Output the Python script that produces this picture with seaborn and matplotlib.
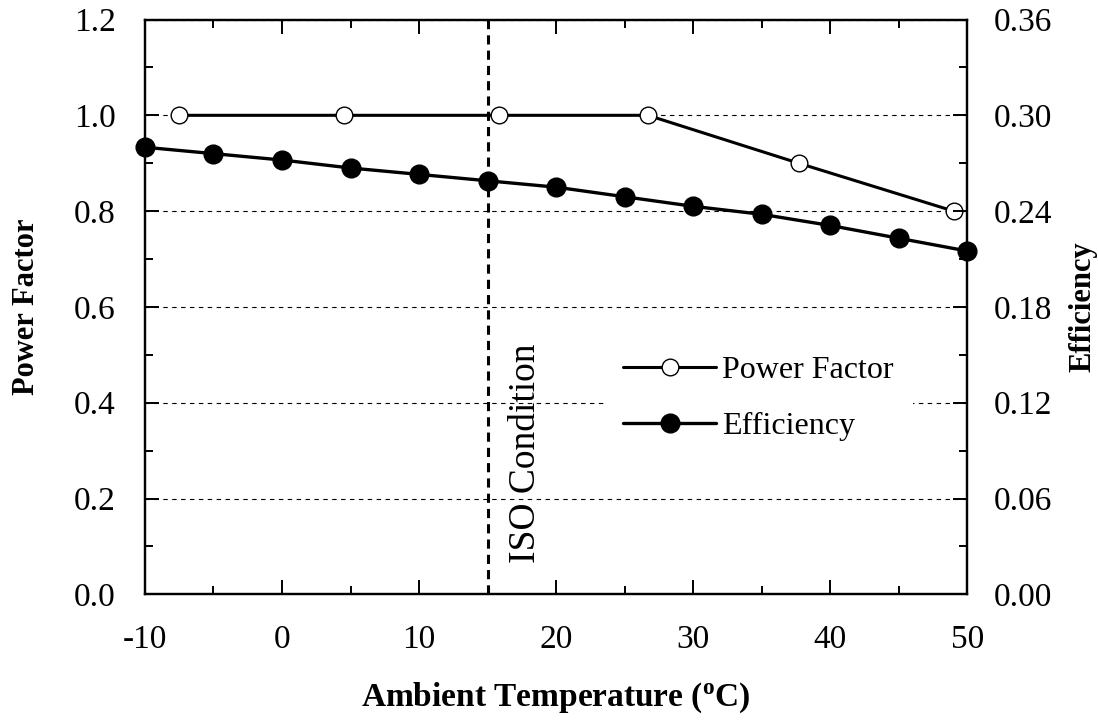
import pandas as pd
import matplotlib.pyplot as plt
import seaborn as sns
from matplotlib.ticker import MultipleLocator

# values
pf_temp = [-7.5, 4.5, 15.8, 26.7, 37.7, 49.0]
pf_vals = [1.0, 1.0, 1.0, 1.0, 0.9, 0.8]
eff_temp = [-10, -5, 0, 5, 10, 15, 20, 25, 30, 35, 40, 45, 50]
eff_vals = [0.280, 0.276, 0.272, 0.267, 0.263, 0.259, 0.255,
            0.249, 0.243, 0.238, 0.231, 0.223, 0.215]
iso_temp = 15

pf_df = pd.DataFrame({'temp': pf_temp, 'pf': pf_vals})
eff_df = pd.DataFrame({'temp': eff_temp, 'eff': eff_vals})

sns.set_style("ticks", {'axes.edgecolor': 'black', 'xtick.color': 'black',
                        'ytick.color': 'black', 'text.color': 'black',
                        'axes.labelcolor': 'black'})
plt.rcParams['font.family'] = ['Liberation Serif', 'DejaVu Serif']
plt.rcParams['axes.unicode_minus'] = False
plt.rcParams['mathtext.fontset'] = 'custom'
plt.rcParams['mathtext.rm'] = 'Liberation Serif'
plt.rcParams['mathtext.bf'] = 'Liberation Serif:bold'

fig = plt.figure(figsize=(10.98, 7.23), dpi=100)
ax = fig.add_axes([0.132, 0.178, 0.749, 0.795])
ax2 = ax.twinx()

# grid and ISO line on the left axis
ax.yaxis.grid(True, linestyle=(0, (4, 4)), linewidth=0.8, color='black')
ax.set_axisbelow(True)
ax.axvline(iso_temp, color='black', linestyle=(0, (3, 2)), linewidth=2.2, zorder=1)
ax.text(17.8, 0.065, 'ISO Condition', rotation=90, ha='center', va='bottom', fontsize=27)

sns.lineplot(data=pf_df, x='temp', y='pf', ax=ax, color='black', linewidth=2.2,
             marker='o', markersize=12, markerfacecolor='white',
             markeredgecolor='black', markeredgewidth=1, clip_on=False,
             label='Power Factor', zorder=3)
sns.lineplot(data=eff_df, x='temp', y='eff', ax=ax2, color='black', linewidth=2.4,
             marker='o', markersize=13.5, markerfacecolor='black',
             markeredgecolor='black', markeredgewidth=1, clip_on=False,
             label='Efficiency', zorder=3)
for a in (ax, ax2):
    if a.get_legend() is not None:
        a.get_legend().remove()

ax.set_xlim(-10, 50)
ax.set_ylim(0, 1.2)
ax2.set_ylim(0, 0.36)
ax.xaxis.set_major_locator(MultipleLocator(10))
ax.xaxis.set_minor_locator(MultipleLocator(5))
ax.yaxis.set_major_locator(MultipleLocator(0.2))
ax.yaxis.set_minor_locator(MultipleLocator(0.1))
ax2.yaxis.set_major_locator(MultipleLocator(0.06))
ax2.yaxis.set_minor_locator(MultipleLocator(0.03))
ax.yaxis.set_major_formatter(plt.FormatStrFormatter('%.1f'))
ax2.yaxis.set_major_formatter(plt.FormatStrFormatter('%.2f'))

for a in (ax, ax2):
    for s in a.spines.values():
        s.set_linewidth(1.6)
        s.set_color('black')
        s.set_visible(True)
ax.tick_params(which='both', direction='in', top=True, width=1.4, labelsize=24, colors='black')
ax.tick_params(which='major', length=10)
ax.tick_params(which='minor', length=6)
ax.tick_params(axis='y', which='major', pad=21)
ax.tick_params(axis='x', which='major', pad=22)
ax2.tick_params(which='both', direction='in', width=1.4, labelsize=24, colors='black')
ax2.tick_params(which='major', length=10, pad=19)
ax2.tick_params(which='minor', length=6)

ax.set_xlabel(r'Ambient Temperature ($\mathbf{^o}$C)', fontsize=24, fontweight='bold', labelpad=18)
ax.set_ylabel('Power Factor', fontsize=22, fontweight='bold', labelpad=24)
ax2.set_ylabel('Efficiency', fontsize=22, fontweight='bold', labelpad=12)

h1, l1 = ax.get_legend_handles_labels()
h2, l2 = ax2.get_legend_handles_labels()
leg = ax2.legend(h1 + h2, l1 + l2, loc='center left', bbox_to_anchor=(0.539, 0.341),
                 fontsize=23, frameon=True, facecolor='white', edgecolor='none',
                 framealpha=1, fancybox=False, handlelength=2.9, handletextpad=0.2,
                 labelspacing=0.85, borderpad=0.6)

fig.savefig('out.png', dpi=100)
